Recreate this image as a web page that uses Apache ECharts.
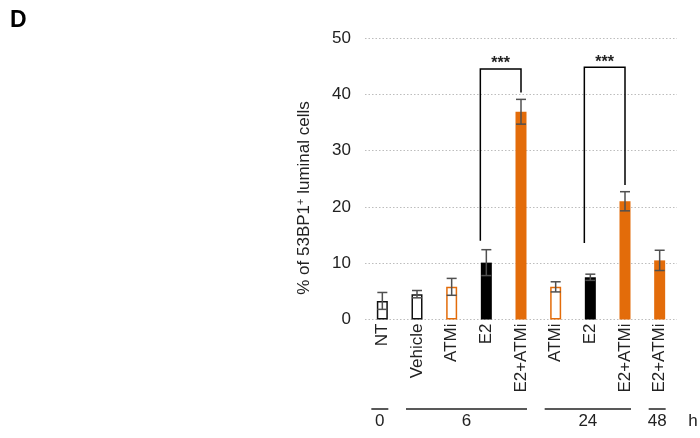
<!DOCTYPE html>
<html>
<head>
<meta charset="utf-8">
<script src="https://cdn.jsdelivr.net/npm/echarts@6/dist/echarts.min.js"></script>
<style>
html, body { margin: 0; padding: 0; background: #fff; }
#chart { width: 700px; height: 438px; }
</style>
</head>
<body>
<div id="chart"></div>
<script>
// data
const categories = ['NT', 'Vehicle', 'ATMi', 'E2', 'E2+ATMi', 'ATMi', 'E2', 'E2+ATMi', 'E2+ATMi']
const values = [3.3, 4.5, 5.8, 10.1, 36.9, 5.8, 7.5, 21.0, 10.5]
const errors = [1.5, 0.65, 1.5, 2.3, 2.2, 0.9, 0.55, 1.7, 1.8]
const barKinds = ['open-black', 'open-black', 'open-orange', 'black', 'orange', 'open-orange', 'black', 'orange', 'orange']
const yTicks = [0, 10, 20, 30, 40, 50]
const timeLabels = ['0', '6', '24', '48']
const timeSpans = [[0, 0], [1, 4], [5, 7], [8, 8]]
// [from index, to index, left leg bottom, bracket top, right leg bottom]
const brackets = [
  [3, 4, 14.0, 44.5, 40.3],
  [6, 7, 13.6, 44.8, 23.9]
]

const ORANGE = '#E36C0A'
const FONT = 'Liberation Sans, Arial, sans-serif'
const kindStyle = {
  'open-black': { color: '#fff', borderColor: '#111', borderWidth: 1.5 },
  'open-orange': { color: '#fff', borderColor: ORANGE, borderWidth: 1.5 },
  'black': { color: '#000' },
  'orange': { color: ORANGE }
}

const chart = echarts.init(document.getElementById('chart'))

const option = {
  animation: false,
  grid: { left: 365, right: 23, top: 38, bottom: 118.5, containLabel: false },
  xAxis: {
    type: 'category',
    data: categories,
    axisLine: { show: false },
    axisTick: { show: false },
    axisLabel: {
      rotate: 90,
      interval: 0,
      margin: 4,
      fontSize: 17,
      color: '#222',
      fontFamily: FONT
    }
  },
  yAxis: {
    type: 'value',
    min: yTicks[0],
    max: yTicks[yTicks.length - 1],
    interval: 10,
    axisLine: { show: false },
    axisTick: { show: false },
    axisLabel: {
      margin: 14,
      fontSize: 17,
      color: '#222',
      fontFamily: FONT
    },
    splitLine: { lineStyle: { color: '#bdbdbd', type: [1.5, 2], width: 1 } }
  },
  series: [
    {
      type: 'bar',
      barWidth: 11,
      data: values.map((v, i) => ({ value: v, itemStyle: kindStyle[barKinds[i]] }))
    },
    {
      type: 'custom',
      data: values.map((v, i) => [i, v - errors[i], v + errors[i]]),
      z: 5,
      renderItem(params, api) {
        const lo = api.coord([api.value(0), api.value(1)])
        const hi = api.coord([api.value(0), api.value(2)])
        const x = lo[0], w = 5
        const st = { stroke: '#505050', lineWidth: 1.5 }
        return {
          type: 'group',
          children: [
            { type: 'line', shape: { x1: x, y1: lo[1], x2: x, y2: hi[1] }, style: st },
            { type: 'line', shape: { x1: x - w, y1: lo[1], x2: x + w, y2: lo[1] }, style: st },
            { type: 'line', shape: { x1: x - w, y1: hi[1], x2: x + w, y2: hi[1] }, style: st }
          ]
        }
      }
    },
    {
      type: 'custom',
      data: brackets,
      z: 6,
      renderItem(params, api) {
        const a = api.coord([api.value(0), api.value(2)])
        const t = api.coord([api.value(0), api.value(3)])
        const b = api.coord([api.value(1), api.value(4)])
        const xl = a[0] - 6, xr = b[0]
        return {
          type: 'group',
          children: [
            {
              type: 'polyline',
              shape: { points: [[xl, a[1]], [xl, t[1]], [xr, t[1]], [xr, b[1]]] },
              style: { stroke: '#000', lineWidth: 1.5, fill: null }
            },
            {
              type: 'text',
              style: {
                text: '***', x: (xl + xr) / 2, y: t[1] + 3,
                align: 'center', verticalAlign: 'bottom',
                fontSize: 16, fontWeight: 'bold', fill: '#222', fontFamily: FONT
              }
            }
          ]
        }
      }
    }
  ]
}

chart.setOption(option)

// time groups under the category labels, placed from the category axis
const groupGraphics = []
timeSpans.forEach((span, i) => {
  const x1 = chart.convertToPixel({ xAxisIndex: 0 }, span[0]) - 11
  const x2 = chart.convertToPixel({ xAxisIndex: 0 }, span[1]) + 6
  groupGraphics.push({
    type: 'line',
    shape: { x1: x1, y1: 409, x2: x2, y2: 409 },
    style: { stroke: '#222', lineWidth: 1.5 }
  })
  groupGraphics.push({
    type: 'text',
    style: {
      text: timeLabels[i], x: (x1 + x2) / 2, y: 421,
      align: 'center', verticalAlign: 'middle',
      fontSize: 17, fill: '#222', fontFamily: FONT
    }
  })
})
groupGraphics.push({
  type: 'text',
  style: {
    text: 'h', x: 693, y: 421, align: 'center', verticalAlign: 'middle',
    fontSize: 17, fill: '#222', fontFamily: FONT
  }
})

chart.setOption({
  graphic: [
    {
      type: 'text',
      left: 10, top: 9,
      style: { text: 'D', fontSize: 23, fontWeight: 'bold', fill: '#000', fontFamily: FONT }
    },
    {
      type: 'text',
      x: 304, y: 198,
      rotation: Math.PI / 2,
      style: {
        text: '% of 53BP1{sup|+} luminal cells',
        align: 'center', verticalAlign: 'middle',
        fontSize: 17, fill: '#222', fontFamily: FONT,
        rich: {
          sup: { fontSize: 11, verticalAlign: 'top', padding: [0, 0, 7, 0], fill: '#222' }
        }
      }
    }
  ].concat(groupGraphics)
})
</script>
</body>
</html>
